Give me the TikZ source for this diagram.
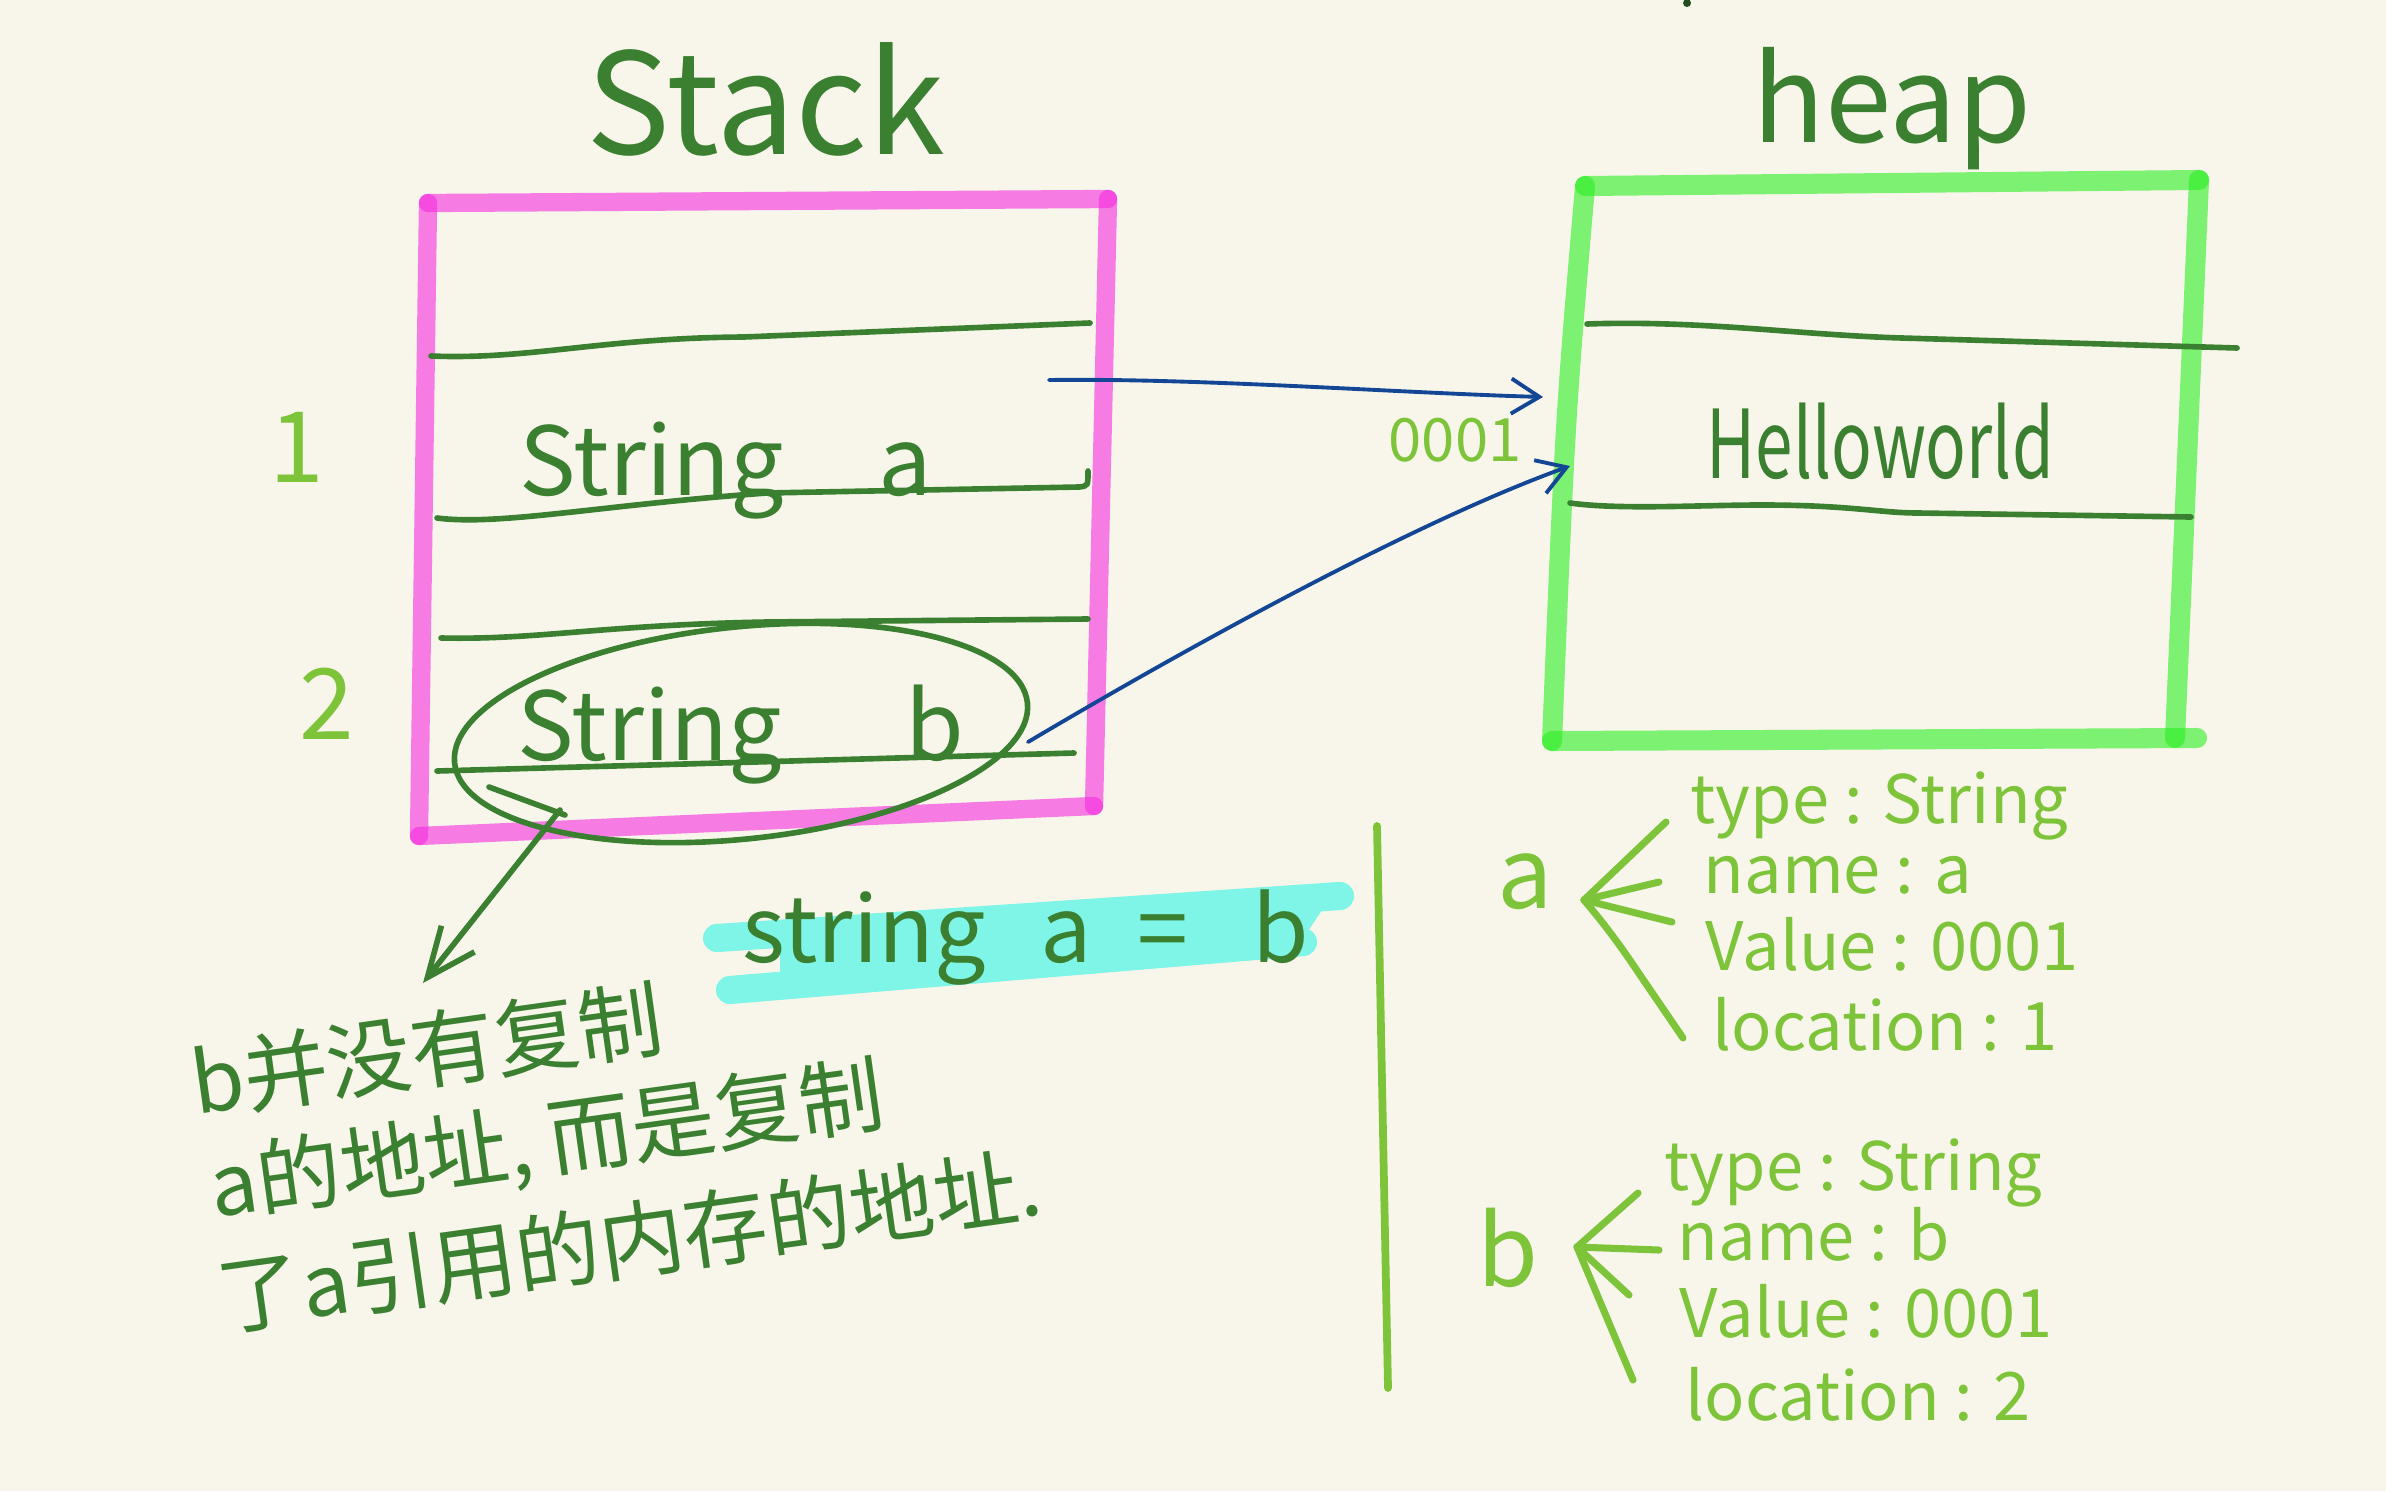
\documentclass[tikz,border=0pt]{standalone}
\usepackage{fontspec}
\setmainfont{Noto Sans CJK SC}
\usetikzlibrary{
  arrows.meta
}

\definecolor{paper}{HTML}{F8F6EA}
\definecolor{ink}{HTML}{3A8030}
\definecolor{leaf}{HTML}{7EC43A}
\definecolor{stackpink}{HTML}{F52BE0}
\definecolor{heapgreen}{HTML}{2BEF22}
\definecolor{ptrblue}{HTML}{144696}
\definecolor{marker}{HTML}{7EF5E6}

\newcommand{\titlefont}{\fontsize{40}{48}\selectfont}
\newcommand{\heapfont}{\fontsize{34}{41}\selectfont}
\newcommand{\cellfont}{\fontsize{27}{32}\selectfont}
\newcommand{\notefont}{\fontsize{26}{31}\selectfont}
\newcommand{\cnfont}{\fontsize{24}{29}\selectfont}
\newcommand{\labelfont}{\fontsize{28}{34}\selectfont}
\newcommand{\fieldfont}{\fontsize{19}{23}\selectfont}
\newcommand{\addrfont}{\fontsize{17}{20}\selectfont}

\tikzset{
  stackedge/.style={line width=5.2pt,line cap=round,line join=round,
    draw=stackpink,draw opacity=0.6},
  heapedge/.style={line width=5.7pt,line cap=round,line join=round,
    draw=heapgreen,draw opacity=0.6},
  cellline/.style={line width=1.6pt,draw=ink,line cap=round},
  ptr/.style={line width=1.1pt,draw=ptrblue,line cap=round,
    -{Straight Barb[length=8pt,width=10pt]}},
  fan/.style={line width=2pt,draw=leaf,line cap=round},
  markband/.style={line width=8pt,draw=marker,line cap=round},
  inktext/.style={text=ink,inner sep=0pt},
  leaftext/.style={text=leaf,inner sep=0pt}
}

\begin{document}
\begin{tikzpicture}[x=0.01cm,y=-0.01cm]

\path[use as bounding box,fill=paper] (0,0) rectangle (2386,1491);
\fill[ink!60!black] (1687,3) circle (4);

%--------------------
% 栈
%--------------------
\begin{scope}
  % 标题
  \node[inktext,font=\titlefont,anchor=base west] (StackTitle) at (586,155) {Stack};

  % 外框
  \coordinate (STL) at (428,203);
  \coordinate (STR) at (1108,199);
  \coordinate (SBR) at (1094,806);
  \coordinate (SBL) at (419,836);

  \draw[stackedge] (STL) -- (STR);
  \draw[stackedge] (STR) -- (SBR);
  \draw[stackedge] (SBR) -- (SBL);
  \draw[stackedge] (SBL) -- (STL);

  % 格子
  \draw[cellline] (431,356) .. controls (530,360) and (600,338) .. (744,337) -- (1090,323);
  \draw[cellline] (437,518) .. controls (500,526) and (600,505) .. (767,493) -- (1079,487)
    .. controls (1088,486) .. (1088,471);
  \draw[cellline] (441,638) .. controls (540,640) and (600,625) .. (767,622) -- (1088,619);
  \draw[cellline] (437,771) -- (1074,753);

  % 变量
  \node[inktext,font=\cellfont,anchor=base west] (VarA) at (519,495)
    {String\hspace{1em}a};
  \node[inktext,font=\cellfont,anchor=base west] (VarB) at (517,760)
    {String\hspace{1.3em}b};

  \node[leaftext,font=\labelfont] (SlotA) at (297,447) {1};
  \node[leaftext,font=\labelfont] (SlotB) at (327,704) {2};

  % 圈出 b
  \draw[cellline,rotate around={6:(741,733)}] (741,733) ellipse [x radius=288,y radius=106];
  \draw[cellline] (489,787) -- (565,815);
\end{scope}

%--------------------
% 堆
%--------------------
\begin{scope}
  \node[inktext,font=\heapfont,anchor=base west] (HeapTitle) at (1752,143) {heap};

  \coordinate (HTL) at (1585,186);
  \coordinate (HTR) at (2199,180);
  \coordinate (HBR) at (2175,738);
  \coordinate (HBL) at (1552,741);
  \coordinate (HBE) at (2197,738);

  \draw[heapedge] (HTL) -- (HTR);
  \draw[heapedge] (HTR) -- (HBR);
  \draw[heapedge] (HBL) -- (HBE);
  \draw[heapedge] (HTL) .. controls (1565,420) .. (HBL);

  \draw[cellline] (1587,324) .. controls (1700,320) and (1800,335) .. (1902,338) -- (2237,348);
  \draw[cellline] (1570,503) .. controls (1620,510) and (1700,505) .. (1762,505)
    .. controls (1850,505) and (1880,513) .. (1918,513) -- (2191,517);

  \node[inktext,font=\cellfont,anchor=base west] (Hello) at (1706,478)
    {\scalebox{0.71}[1]{Helloworld}};

  \node[leaftext,font=\addrfont] (Addr) at (1455,440) {0001};
\end{scope}

% 引用
\coordinate (PtrA) at (1049,380);
\coordinate (CellA) at (1543,397);
\draw[ptr] (PtrA) .. controls (1200,378) and (1400,393) .. (CellA);

\coordinate (PtrB) at (1028,742);
\coordinate (CellB) at (1570,466);
\draw[ptr] (PtrB) .. controls (1200,640) and (1420,520) .. (CellB);

%--------------------
% 说明
%--------------------
\coordinate (Circ) at (560,810);
\coordinate (NoteTip) at (423,983);
\draw[cellline,-{Straight Barb[length=14pt,width=12pt]}] (Circ) -- (NoteTip);

\draw[markband] (717,938) -- (1340,896);
\draw[markband] (730,990) -- (1303,942);
\fill[marker] (780,940) -- (1330,898) -- (1300,943) -- (780,985) -- cycle;

\node[inktext,font=\notefont,anchor=base west] (Assign) at (742,962)
  {string\hspace{0.6em}a\hspace{0.5em}=\hspace{0.7em}b};

\node[inktext,font=\cnfont,anchor=base west,rotate=8] (NoteA) at (196,1115)
  {b并没有复制};
\node[inktext,font=\cnfont,anchor=base west,rotate=8] (NoteB) at (214,1218)
  {a的地址,\hspace{0.2em}而是复制};
\node[inktext,font=\cnfont,anchor=base west,rotate=8] (NoteC) at (222,1330)
  {了a引用的内存的地址.};

% 分隔线
\coordinate (DivTop) at (1377,826);
\coordinate (DivBot) at (1388,1388);
\draw[fan,line width=2.2pt] (DivTop) -- (DivBot);

%--------------------
% 对象 a, b
%--------------------
\node[leaftext,font=\labelfont] (ObjA) at (1525,882) {a};
\coordinate (FanA) at (1584,900);
\draw[fan] (FanA) -- (1666,822);
\draw[fan] (FanA) -- (1659,882);
\draw[fan] (FanA) -- (1672,922);
\draw[fan] (FanA) .. controls (1605,925) and (1620,945) .. (1640,975) -- (1683,1038);

\node[leaftext,font=\fieldfont,anchor=base west] (TypeA) at (1690,823) {type : String};
\node[leaftext,font=\fieldfont,anchor=base west] (NameA) at (1703,893) {name : a};
\node[leaftext,font=\fieldfont,anchor=base west] (ValA) at (1705,970) {Value : 0001};
\node[leaftext,font=\fieldfont,anchor=base west] (LocA) at (1712,1050) {location : 1};

\node[leaftext,font=\labelfont] (ObjB) at (1508,1248) {b};
\coordinate (FanB) at (1577,1247);
\draw[fan] (FanB) -- (1638,1193);
\draw[fan] (FanB) -- (1659,1250);
\draw[fan] (FanB) -- (1629,1295);
\draw[fan] (FanB) -- (1633,1380);

\node[leaftext,font=\fieldfont,anchor=base west] (TypeB) at (1664,1190) {type : String};
\node[leaftext,font=\fieldfont,anchor=base west] (NameB) at (1677,1260) {name : b};
\node[leaftext,font=\fieldfont,anchor=base west] (ValB) at (1679,1337) {Value : 0001};
\node[leaftext,font=\fieldfont,anchor=base west] (LocB) at (1685,1420) {location : 2};

\end{tikzpicture}
\end{document}
